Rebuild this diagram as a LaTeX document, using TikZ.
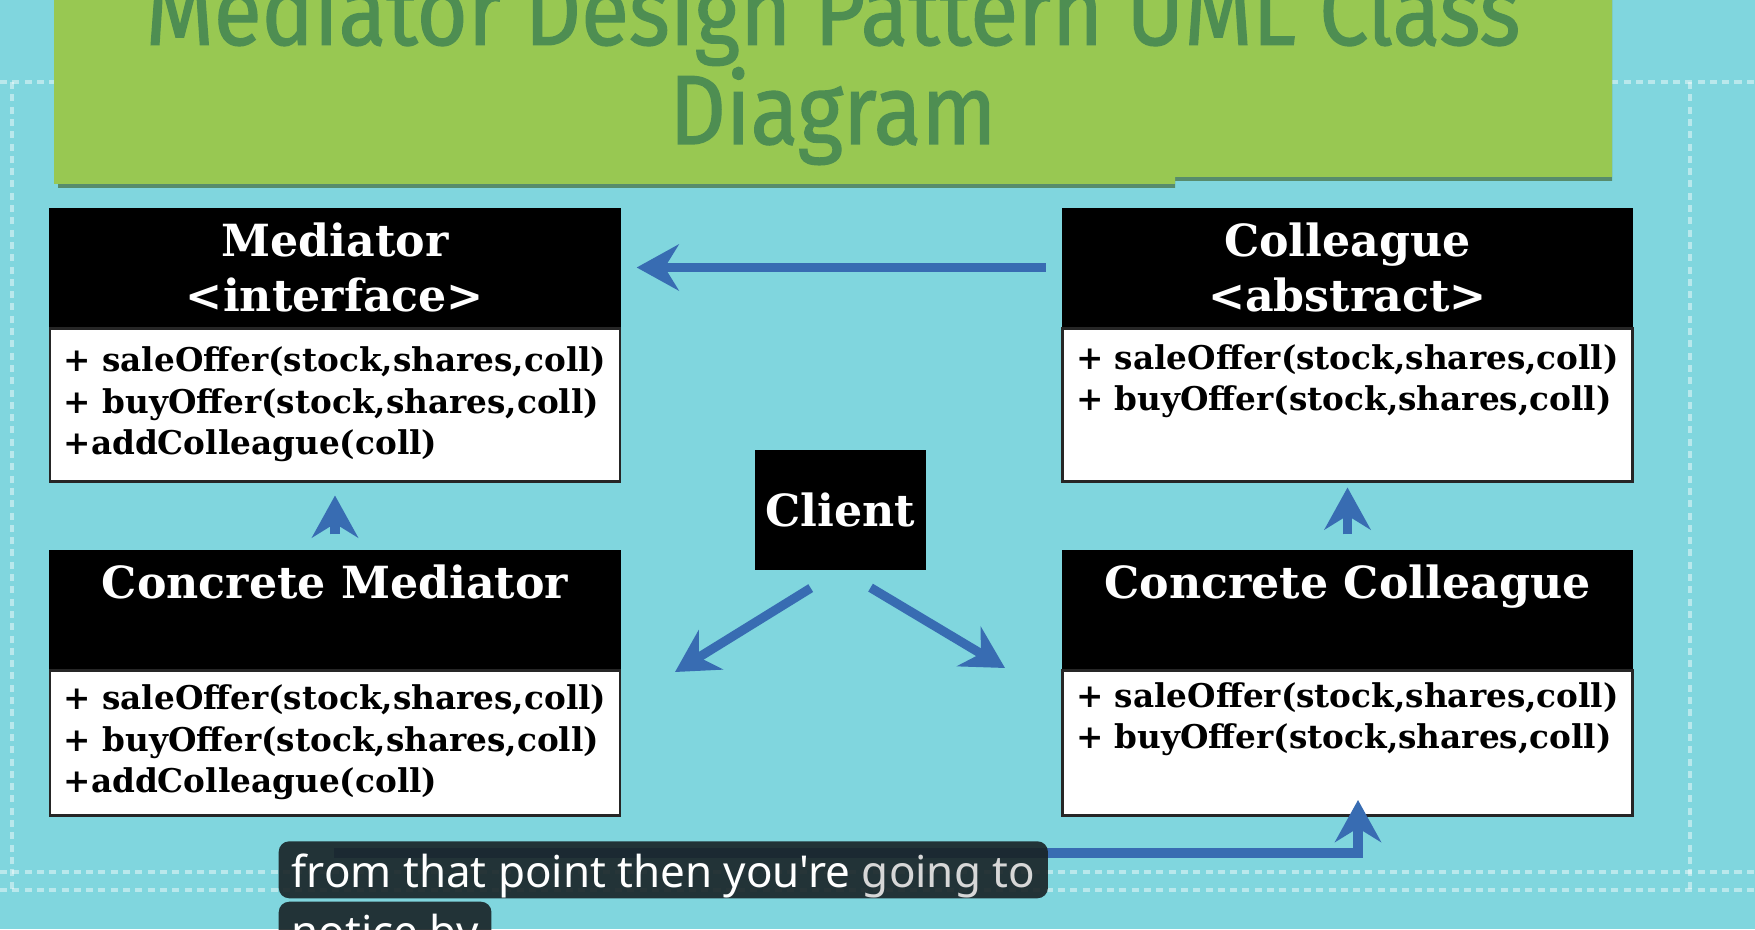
\documentclass[tikz,border=0pt]{standalone}
\usepackage{fontspec}
\usetikzlibrary{positioning,arrows.meta}
\newfontfamily\boxfont{DejaVu Serif}
\newfontfamily\titlefont{Fira Sans}[FakeStretch=0.89,FakeBold=1.2]
\newfontfamily\capfont{Noto Sans}
\definecolor{bgcyan}{RGB}{128,214,222}
\definecolor{banner}{RGB}{152,200,82}
\definecolor{bannershade}{RGB}{70,110,60}
\definecolor{titlegreen}{RGB}{78,142,82}
\definecolor{arrowblue}{RGB}{56,108,178}
\definecolor{subbg}{RGB}{24,34,37}
\definecolor{capgrey}{RGB}{215,215,215}
\begin{document}
\begin{tikzpicture}[x=1cm,y=1cm,
    hdr/.style={fill=black, draw=black, text=white, minimum width=5.7cm,
      minimum height=1.17cm, inner sep=0pt, align=center,
      font=\boxfont\bfseries\fontsize{12.6}{15.9}\selectfont},
    bdy/.style={fill=white, draw=black!85, line width=0.8pt, minimum width=5.7cm,
      inner xsep=0pt, inner ysep=0pt, align=left,
      font=\boxfont\bfseries\fontsize{9.3}{11.8}\selectfont},
    arr/.style={draw=arrowblue, line width=2.6pt,
      -{Stealth[length=4.2mm,width=4.6mm,inset=1.4mm]}},
    frame/.style={white, opacity=0.45, line width=1.4pt, dash pattern=on 2pt off 1.5pt},
    sub/.style={fill=subbg, fill opacity=0.9, text opacity=1, rounded corners=3pt,
      text=white, font=\capfont\fontsize{12.5}{15}\selectfont,
      inner xsep=0.13cm, inner ysep=0.03cm, text height=0.43cm, text depth=0.08cm,
      anchor=south west}]
    \useasboundingbox (0,0) rectangle (17.55,9.29);
    \clip (0,0) rectangle (17.55,9.29);
    \fill[bgcyan] (0,0) rectangle (17.55,9.29);

    % dashed frame
    \draw[frame] (0,8.47) -- (17.55,8.47);
    \draw[frame] (0,0.57) -- (17.55,0.57);
    \draw[frame] (0,0.39) -- (17.55,0.39);
    \draw[frame] (0.12,8.47) -- (0.12,0.39);
    \draw[frame] (16.9,8.47) -- (16.9,0.39);

    % title banner
    \fill[bannershade, opacity=0.7] (0.58,9.4) -- (0.58,7.41) -- (11.75,7.41) -- (11.75,7.48)
      -- (16.12,7.48) -- (16.12,9.4) -- cycle;
    \fill[banner] (0.54,9.4) -- (0.54,7.45) -- (11.75,7.45) -- (11.75,7.52)
      -- (16.12,7.52) -- (16.12,9.4) -- cycle;
    \node[font=\titlefont\fontsize{28}{28.2}\selectfont, text=titlegreen, align=center,
      anchor=base] (ttl) at (8.33,7.85) {Mediator Design Pattern UML Class\\Diagram};

    % classes
    \node[hdr] (med) at (3.35,6.615) {Mediator\\<interface>};
    \node[bdy, minimum height=1.53cm, below=0pt of med] (medbody)
      {+ saleOffer(stock,shares,coll)\\+ buyOffer(stock,shares,coll)\\+addColleague(coll)};

    \node[hdr] (col) at (13.475,6.615) {Colleague\\<abstract>};
    \node[bdy, minimum height=1.53cm, below=0pt of col] (colbody)
      {+ saleOffer(stock,shares,coll)\\+ buyOffer(stock,shares,coll)\\\strut};

    \node[hdr] (cmed) at (3.35,3.195) {Concrete Mediator\\~};
    \node[bdy, minimum height=1.45cm, below=0pt of cmed] (cmedbody)
      {+ saleOffer(stock,shares,coll)\\+ buyOffer(stock,shares,coll)\\+addColleague(coll)};

    \node[hdr] (ccol) at (13.475,3.195) {Concrete Colleague\\~};
    \node[bdy, minimum height=1.45cm, below=0pt of ccol] (ccolbody)
      {+ saleOffer(stock,shares,coll)\\+ buyOffer(stock,shares,coll)\\\strut};

    \node[hdr, minimum width=1.69cm, minimum height=1.18cm] (client) at (8.405,4.19) {Client};

    % connectors
    \draw[arr, shorten <=0.16cm, shorten >=0.16cm] (col) -- (med);
    \draw[arr, shorten <=0.16cm, shorten >=0.13cm] (cmed.north) -- (medbody.south);
    \draw[arr, shorten <=0.16cm, shorten >=0.05cm] (ccol.north) -- (colbody.south);

    \coordinate (toCM) at (6.75,2.57);
    \coordinate (toCC) at (10.05,2.61);
    \draw[arr, shorten <=0.35cm] (client.south) -- (toCM);
    \draw[arr, shorten <=0.35cm] (client.south) -- (toCC);

    \coordinate (ftA) at (3.34,0.76);
    \coordinate (ftB) at (13.58,1.29);
    \draw[arr] (ftA) -| (ftB);

    % caption
    \node[sub] (cap1) at (2.78,0.30)
      {from that point then you're \textcolor{capgrey}{going to}};
    \node[sub, anchor=north west] (cap2) at (2.78,0.28) {notice by};
  \end{tikzpicture}
\end{document}
